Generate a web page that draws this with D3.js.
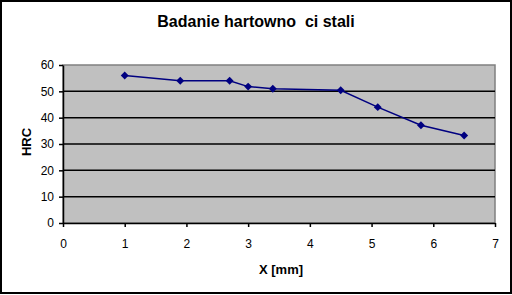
<!DOCTYPE html>
<html>
<head>
<meta charset="utf-8">
<script src="https://cdn.jsdelivr.net/npm/d3@7"></script>
<style>
body { margin: 0; background: #fff; }
svg { display: block; font-family: Arial, "Liberation Sans", sans-serif; }
</style>
</head>
<body>
<div class="canvas"></div>
<script>
// chart data
var xValues = [1, 1.9, 2.7, 3, 3.4, 4.5, 5.1, 5.8, 6.5];
var hrcValues = [56, 54, 54, 51.8, 51, 50.4, 44, 37.1, 33.2];
var xTicks = [0, 1, 2, 3, 4, 5, 6, 7];
var yTicks = [0, 10, 20, 30, 40, 50, 60];
var title = "Badanie hartowno  ci stali";

var width = 512, height = 295;
var margin = {top: 65, right: 17, bottom: 72, left: 63};

var svg = d3.select(".canvas").append("svg")
    .attr("width", width)
    .attr("height", height);

// outer frame
svg.append("rect")
    .attr("x", 1).attr("y", 1)
    .attr("width", width - 2).attr("height", height - 3)
    .attr("fill", "#fff")
    .attr("stroke", "#000")
    .attr("stroke-width", 2);

var x = d3.scaleLinear().domain([0, 7]).range([margin.left, width - margin.right]);
var y = d3.scaleLinear().domain([0, 60]).range([height - margin.bottom, margin.top]);

// plot area
svg.append("rect")
    .attr("x", x(0)).attr("y", y(60))
    .attr("width", x(7) - x(0)).attr("height", y(0) - y(60))
    .attr("fill", "#c0c0c0")
    .attr("stroke", "#808080")
    .attr("stroke-width", 1.5);

// gridlines
svg.append("g")
    .selectAll("line")
    .data(yTicks.filter(d => d > 0 && d < 60))
    .enter().append("line")
    .attr("x1", x(0)).attr("x2", x(7))
    .attr("y1", d => y(d)).attr("y2", d => y(d))
    .attr("stroke", "#000")
    .attr("stroke-width", 1.5);

// axes
var xAxis = svg.append("g")
    .attr("transform", "translate(0," + y(0) + ")")
    .call(d3.axisBottom(x).tickValues(xTicks).tickFormat(d3.format("d"))
        .tickSize(4).tickSizeOuter(0).tickPadding(12));

var yAxis = svg.append("g")
    .attr("transform", "translate(" + x(0) + ",0)")
    .call(d3.axisLeft(y).tickValues(yTicks).tickFormat(d3.format("d"))
        .tickSize(4).tickSizeOuter(0).tickPadding(5));

[xAxis, yAxis].forEach(g => {
    g.select(".domain").attr("stroke", "#000").attr("stroke-width", 1.5);
    g.selectAll(".tick line").attr("stroke", "#000").attr("stroke-width", 1.5);
    g.selectAll(".tick text")
        .attr("fill", "#000")
        .style("font-size", "12px")
        .style("font-family", "Arial, 'Liberation Sans', sans-serif");
});

// series
var pts = xValues.map((d, i) => [d, hrcValues[i]]);

svg.append("path")
    .datum(pts)
    .attr("fill", "none")
    .attr("stroke", "#000080")
    .attr("stroke-width", 1.5)
    .attr("d", d3.line().x(d => x(d[0])).y(d => y(d[1])));

svg.append("g")
    .selectAll("path")
    .data(pts)
    .enter().append("path")
    .attr("transform", d => "translate(" + x(d[0]) + "," + y(d[1]) + ")")
    .attr("d", d3.symbol().type(d3.symbolDiamond2).size(40))
    .attr("fill", "#000080");

// titles
svg.append("text")
    .attr("x", 256).attr("y", 27)
    .attr("text-anchor", "middle")
    .style("font-size", "16px")
    .style("font-weight", "bold")
    .style("white-space", "pre")
    .attr("xml:space", "preserve")
    .text(title);

svg.append("text")
    .attr("x", 281).attr("y", 274)
    .attr("text-anchor", "middle")
    .style("font-size", "13px")
    .style("font-weight", "bold")
    .text("X [mm]");

svg.append("text")
    .attr("transform", "translate(31,142) rotate(-90)")
    .attr("text-anchor", "middle")
    .style("font-size", "13px")
    .style("font-weight", "bold")
    .text("HRC");
</script>
</body>
</html>
